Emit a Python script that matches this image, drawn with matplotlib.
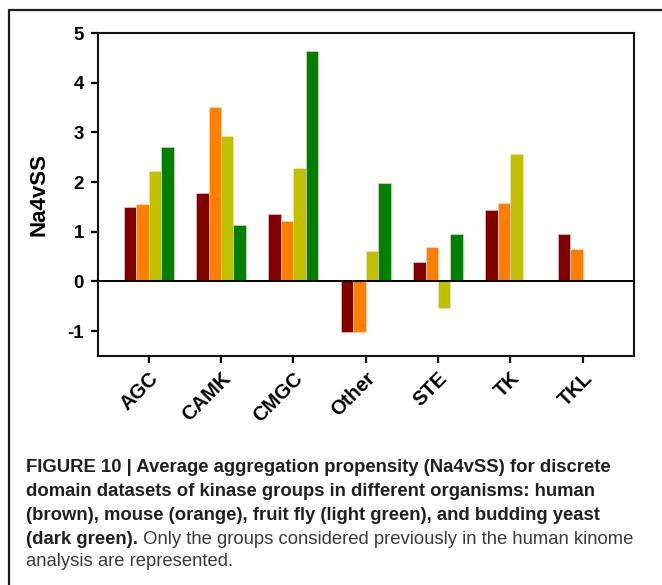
import matplotlib
matplotlib.use("Agg")
import matplotlib.pyplot as plt
import numpy as np
from matplotlib.lines import Line2D
from matplotlib import font_manager as fm

# Kinase groups and Na4vSS averages per organism (NaN = group absent)
groups = ["AGC", "CAMK", "CMGC", "Other", "STE", "TK", "TKL"]
human = [1.50, 1.78, 1.36, -1.01, 0.40, 1.44, 0.95]
mouse = [1.55, 3.52, 1.21, -1.01, 0.70, 1.58, 0.66]
fruit_fly = [2.23, 2.93, 2.29, 0.62, -0.54, 2.56, np.nan]
budding_yeast = [2.70, 1.14, 4.64, 1.99, 0.95, np.nan, np.nan]

series = [human, mouse, fruit_fly, budding_yeast]
colors = ["#800000", "#ff8000", "#c0c000", "#008000"]
y_ticks = [-1, 0, 1, 2, 3, 4, 5]

W, H = 662, 585
fig = plt.figure(figsize=(W / 100, H / 100), dpi=100)

available = {f.name for f in fm.fontManager.ttflist}
narrow = "Liberation Sans Narrow" if "Liberation Sans Narrow" in available else "Liberation Sans"
axfont = "Liberation Sans"

ax = fig.add_axes([98 / W, 1 - 356 / H, (634 - 98) / W, (356 - 33) / H])
x = np.arange(len(groups))
bw = 0.172
for i, (vals, c) in enumerate(zip(series, colors)):
    ax.bar(x + (i - 1.5) * bw, vals, width=bw, color=c,
           edgecolor=(1.0, 0.88, 0.85, 0.7), linewidth=0.5, zorder=2)

ax.axhline(0, color="black", lw=1.4, zorder=3)
ax.set_xlim(-0.7, 6.71)
ax.set_ylim(-1.5, 5)
ax.set_yticks(y_ticks)
ax.set_yticklabels([str(v) for v in y_ticks], fontfamily=axfont,
                   fontweight="bold", fontsize=13.5)
ax.set_xticks(x)
ax.set_xticklabels(groups, rotation=45, ha="right", rotation_mode="anchor",
                   fontfamily=axfont, fontweight="bold", fontsize=14.5)
ax.tick_params(axis="both", direction="out", length=5, width=1.6, color="black")
ax.tick_params(axis="y", pad=5)
ax.tick_params(axis="x", pad=4)
for s in ax.spines.values():
    s.set_linewidth(1.5)
    s.set_color("#111111")
ax.set_ylabel("Na4vSS", fontfamily=axfont, fontweight="bold", fontsize=16,
              labelpad=13)

# frame around the figure panel
fig.add_artist(Line2D([9 / W, 9 / W, 1.01], [-0.01, 1 - 10 / H, 1 - 10 / H],
                      transform=fig.transFigure, color="#1e1e1e", lw=1.6))

# caption
cap_color = "#231f20"
lines = [
    ("FIGURE 10 | Average aggregation propensity (Na4vSS) for discrete", None),
    ("domain datasets of kinase groups in different organisms: human", None),
    ("(brown), mouse (orange), fruit fly (light green), and budding yeast", None),
    ("(dark green).", " Only the groups considered previously in the human kinome"),
    (None, "analysis are represented."),
]
fig.canvas.draw()
renderer = fig.canvas.get_renderer()

# size the caption so its first line spans the panel width
probe = fig.text(0, 0, lines[0][0], fontfamily=narrow, fontweight="bold", fontsize=12)
w12 = probe.get_window_extent(renderer).width
probe.remove()
cap_size = 12 * (610 - 26) / w12

x0 = 26
y_lines = [465, 489, 513, 537, 560]
for (b, r), yl in zip(lines, y_lines):
    xp = x0
    if b:
        t = fig.text(xp / W, 1 - yl / H, b, fontfamily=narrow, fontweight="bold",
                     fontsize=cap_size, color=cap_color, va="center_baseline")
        xp = xp + t.get_window_extent(renderer).width
    if r:
        fig.text(xp / W, 1 - yl / H, r, fontfamily=narrow, fontweight="normal",
                 fontsize=cap_size, color="#3a3a3a", va="center_baseline")

fig.savefig("out.png", dpi=100)
